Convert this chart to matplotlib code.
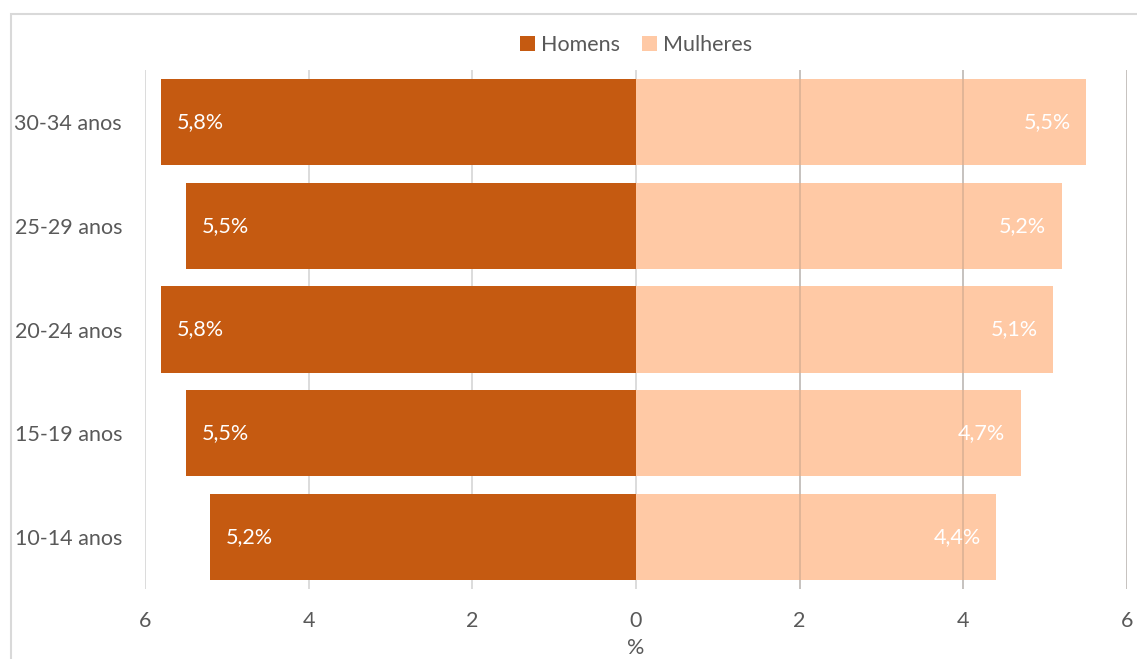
import matplotlib
matplotlib.use('Agg')
import matplotlib.pyplot as plt
from matplotlib.patches import Rectangle
import numpy as np

plt.rcParams['font.family'] = ['Lato', 'DejaVu Sans']

# Age groups, bottom to top
age_groups = ["10-14 anos", "15-19 anos", "20-24 anos", "25-29 anos", "30-34 anos"]
homens = [5.2, 5.5, 5.8, 5.5, 5.8]
mulheres = [4.4, 4.7, 5.1, 5.2, 5.5]
xticks = [-6, -4, -2, 0, 2, 4, 6]
xtick_labels = ["6", "4", "2", "0", "2", "4", "6"]

COLOR_H = "#C55A11"
COLOR_M = "#FFC9A5"
GRID = "#D9D9D9"
TEXT = "#595959"
FS = 15.5

W, H = 1137, 659
fig = plt.figure(figsize=(W / 100, H / 100), dpi=100)
ax = fig.add_axes([145 / W, 1 - 589 / H, (1127 - 145) / W, (589 - 70) / H])

y = np.arange(len(age_groups))
bar_h = 0.83

# gridlines behind the bars
for t in xticks:
    ax.axvline(t, color=GRID, lw=1.3, zorder=0)

ax.barh(y, [-v for v in homens], height=bar_h, color=COLOR_H, zorder=2, label="Homens")
ax.barh(y, mulheres, height=bar_h, color=COLOR_M, zorder=2, label="Mulheres")

# gridlines show faintly through the light bars
for t in xticks:
    if t > 0:
        ax.axvline(t, color="#8a7a70", lw=1.2, alpha=0.3, zorder=3)

for yi, h, m in zip(y, homens, mulheres):
    ax.text(-h + 0.19, yi, f"{h:.1f}%".replace(".", ","), color="white",
            fontsize=FS, va="center", ha="left", zorder=4)
    ax.text(m - 0.19, yi, f"{m:.1f}%".replace(".", ","), color="white",
            fontsize=FS, va="center", ha="right", zorder=4)

ax.set_xlim(-6, 6)
ax.set_ylim(-0.5, len(age_groups) - 0.5)
ax.set_xticks(xticks)
ax.set_xticklabels(xtick_labels)
ax.set_yticks(y)
ax.set_yticklabels(age_groups)
ax.tick_params(axis='both', length=0, labelsize=FS, labelcolor=TEXT)
ax.tick_params(axis='x', pad=16)
ax.tick_params(axis='y', pad=16.5)
for s in ax.spines.values():
    s.set_visible(False)
ax.set_xlabel("%", fontsize=FS, color=TEXT, labelpad=5)

fig.legend(loc='center', bbox_to_anchor=(636 / W, 1 - 45 / H), ncol=2, frameon=False,
           fontsize=FS, labelcolor=TEXT, handlelength=0.7, handleheight=0.7,
           handletextpad=0.3, columnspacing=1.0)

# light frame around the chart area
fig.patches.append(Rectangle((11 / W, -0.01), 1.0, 1 - 14 / H + 0.01,
                             transform=fig.transFigure, fill=False,
                             edgecolor="#D9D9D9", lw=1.5))

fig.savefig("out.png", dpi=100)
